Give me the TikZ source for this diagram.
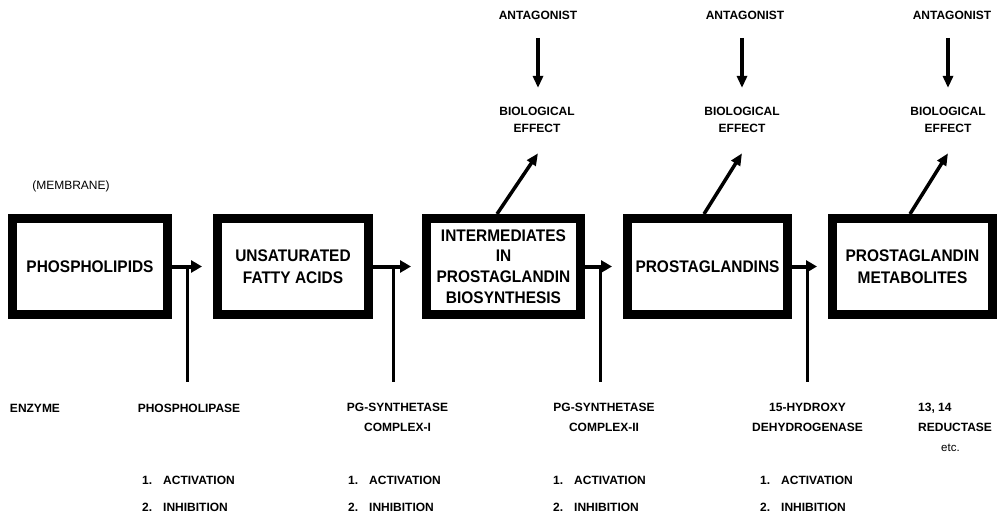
\documentclass[tikz,border=0pt]{standalone}
\usepackage{fontspec}
\setmainfont{Liberation Sans}
\newfontfamily\boxfam[FakeStretch=0.92]{Liberation Sans}
\usetikzlibrary{arrows.meta,calc}
\tikzset{
  procbox/.style={draw, line width=9pt, rectangle, inner sep=0pt,
    minimum height=96pt, align=center,
    font=\boxfam\bfseries\fontsize{16.8}{21.5}\selectfont},
  lab/.style={inner sep=0pt, align=center, anchor=north,
    font=\bfseries\fontsize{12}{20}\selectfont},
  labb/.style={inner sep=0pt, anchor=base,
    font=\bfseries\fontsize{12}{20}\selectfont},
  biolab/.style={inner sep=0pt, align=center, anchor=north,
    font=\bfseries\fontsize{12}{17}\selectfont},
  actlab/.style={inner sep=0pt, align=left, anchor=north west,
    font=\bfseries\fontsize{12}{27}\selectfont},
  flowarrow/.style={line width=4pt, -{Triangle[length=11pt,width=12pt]}, shorten >=11pt},
  enzline/.style={line width=3.5pt},
  antarrow/.style={line width=3.5pt, -{Triangle[length=12pt,width=10pt]},
    shorten <=17.5pt, shorten >=19.5pt},
  effarrow/.style={line width=3.5pt, -{Triangle[length=12pt,width=10pt]}},
}
\newcommand{\numitem}[2]{\makebox[21pt][l]{#1}#2}
\begin{document}
\begin{tikzpicture}[x=1pt,y=-1pt]
\useasboundingbox (0,0) rectangle (1001,513);

% process boxes
\node[procbox, minimum width=155pt] (b1) at (90,266.5) {PHOSPHOLIPIDS};
\node[procbox, minimum width=151pt] (b2) at (293,266.5) {UNSATURATED\\FATTY ACIDS};
\node[procbox, minimum width=154pt, font=\boxfam\bfseries\fontsize{16.8}{20.7}\selectfont] (b3) at (503.5,266.5) {INTERMEDIATES\\IN\\PROSTAGLANDIN\\BIOSYNTHESIS};
\node[procbox, minimum width=160pt] (b4) at (707.5,266.5) {PROSTAGLANDINS};
\node[procbox, minimum width=160pt] (b5) at (912.5,266.5) {PROSTAGLANDIN\\METABOLITES};

% membrane / enzyme labels
\node[labb, font=\mdseries\fontsize{12}{20}\selectfont] (mem) at (71,190) {(MEMBRANE)};
\node[labb] (enz) at (35,412) {ENZYME};
\node[labb] (en1) at (189,412) {PHOSPHOLIPASE};
\node[lab] (en2) at (397.5,403.3) {PG-SYNTHETASE\\COMPLEX-I};
\node[lab] (en3) at (604,403.3) {PG-SYNTHETASE\\COMPLEX-II};
\node[lab] (en4) at (807.5,403.3) {15-HYDROXY\\DEHYDROGENASE};
\node[lab, anchor=north west, align=left] (en5) at (918,403.3) {13, 14\\REDUCTASE\\\hspace*{23pt}{\mdseries\fontsize{11.5}{20}\selectfont etc.}};

% activation / inhibition
\node[actlab] (ai1) at (142,476.4) {\numitem{1.}{ACTIVATION}\\\numitem{2.}{INHIBITION}};
\node[actlab] (ai2) at (348,476.4) {\numitem{1.}{ACTIVATION}\\\numitem{2.}{INHIBITION}};
\node[actlab] (ai3) at (553,476.4) {\numitem{1.}{ACTIVATION}\\\numitem{2.}{INHIBITION}};
\node[actlab] (ai4) at (760,476.4) {\numitem{1.}{ACTIVATION}\\\numitem{2.}{INHIBITION}};

% antagonist / biological effect
\node[lab] (an3) at (538,11.4) {ANTAGONIST};
\node[lab] (an4) at (745,11.4) {ANTAGONIST};
\node[lab] (an5) at (952,11.4) {ANTAGONIST};
\node[biolab] (bi3) at (537,107.4) {BIOLOGICAL\\EFFECT};
\node[biolab] (bi4) at (742,107.4) {BIOLOGICAL\\EFFECT};
\node[biolab] (bi5) at (948,107.4) {BIOLOGICAL\\EFFECT};

% flow arrows
\draw[flowarrow] (b1.east) -- (b2.west);
\draw[flowarrow] (b2.east) -- (b3.west);
\draw[flowarrow] (b3.east) -- (b4.west);
\draw[flowarrow] (b4.east) -- (b5.west);

% enzyme lines
\path (b1.east) ++(15.5,0) coordinate (j1);
\path (b2.east) ++(20.5,0) coordinate (j2);
\path (b3.east) ++(15.5,0) coordinate (j3);
\path (b4.east) ++(15.5,0) coordinate (j4);
\draw[enzline] (j1) -- ++(0,115.5) coordinate (k1);
\draw[enzline] (j2) -- ++(0,115.5) coordinate (k2);
\draw[enzline] (j3) -- ++(0,115.5) coordinate (k3);
\draw[enzline] (j4) -- ++(0,115.5) coordinate (k4);

% antagonist arrows
\draw[antarrow] (an3.south) -- (an3.south |- bi3.north);
\draw[antarrow] ([xshift=-3pt]an4.south) -- (bi4.north);
\draw[antarrow] ([xshift=-4pt]an5.south) -- (bi5.north);

% biological effect arrows
\draw[effarrow] ([xshift=-6.5pt]b3.north) -- ([xshift=1pt,yshift=-20pt]bi3.south);
\draw[effarrow] ([xshift=-3.5pt]b4.north) -- ([yshift=-20pt]bi4.south);
\draw[effarrow] ([xshift=-2.5pt]b5.north) -- ([yshift=-20pt]bi5.south);
\end{tikzpicture}
\end{document}
